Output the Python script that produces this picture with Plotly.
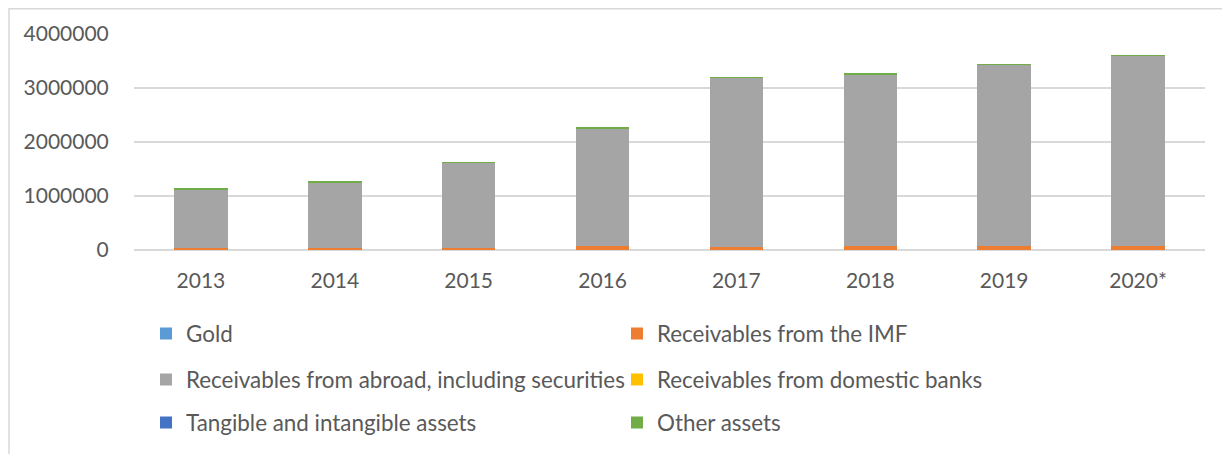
import plotly.graph_objects as go

years = ["2013", "2014", "2015", "2016", "2017", "2018", "2019", "2020*"]
gold = [2000, 2000, 2000, 2500, 2500, 3000, 3500, 4500]
imf = [35000, 40000, 40000, 75000, 55000, 65000, 65000, 70000]
abroad = [1082000, 1207000, 1572000, 2170000, 3130000, 3180000, 3358000, 3522000]
domestic = [0, 0, 0, 0, 0, 0, 0, 0]
tangible = [2000, 2000, 2000, 2500, 2500, 2500, 2500, 2500]
other = [9000, 9000, 9000, 10000, 10000, 10000, 11000, 11000]

names = ["Gold", "Receivables from the IMF",
         "Receivables from abroad, including securities",
         "Receivables from domestic banks",
         "Tangible and intangible assets", "Other assets"]
series = [gold, imf, abroad, domestic, tangible, other]
colors = ["#5B9BD5", "#ED7D31", "#A5A5A5", "#FFC000", "#4472C4", "#70AD47"]
legend_ids = ["legend", "legend2", "legend3", "legend4", "legend5", "legend6"]

FONT = "Lato"
TXT = "#595959"

fig = go.Figure()
for n, s, c, lg in zip(names, series, colors, legend_ids):
    fig.add_trace(go.Bar(x=years, y=s, name=n, marker=dict(color=c, line=dict(width=0)),
                         legend=lg, showlegend=True))

# page offset (body margin) compensation
OFF = 8
W, H = 1230, 454
# target plot-area geometry in screenshot px
L, R, T, B = 134 - OFF, 1205 - OFF, 34 - OFF, 250 - OFF
pw, ph = R - L, B - T

def px_x(x):
    return (x - OFF - L) / pw

def px_y(y):
    return (B - (y - OFF)) / ph

col_x = [px_x(146), px_x(617)]
row_y = [px_y(334), px_y(380), px_y(423)]
leg_common = dict(orientation="h", xanchor="left", yanchor="middle",
                  font=dict(family=FONT, size=22.4, color=TXT),
                  bgcolor="rgba(0,0,0,0)", borderwidth=0)
layout_legends = {}
for i, lg in enumerate(legend_ids):
    layout_legends[lg] = dict(x=col_x[i % 2], y=row_y[i // 2], **leg_common)

fig.update_layout(
    width=W, height=H,
    barmode="stack", bargap=0.6,
    showlegend=True,
    margin=dict(l=L, r=W - R, t=T, b=H - B, autoexpand=False),
    paper_bgcolor="white", plot_bgcolor="white",
    font=dict(family=FONT, size=20, color=TXT),
    **layout_legends,
)
fig.update_yaxes(range=[0, 4000000], dtick=1000000, tickformat="d",
                 showgrid=True, gridcolor="#D9D9D9", gridwidth=2,
                 zeroline=True, zerolinecolor="#D9D9D9", zerolinewidth=2,
                 ticks="outside", ticklen=20, tickcolor="rgba(0,0,0,0)",
                 tickfont=dict(family=FONT, size=21, color=TXT))
fig.update_xaxes(showgrid=False, showline=False, ticks="outside", ticklen=12,
                 tickcolor="rgba(0,0,0,0)",
                 tickfont=dict(family=FONT, size=21, color=TXT))

# chart border
fig.add_shape(type="rect", xref="paper", yref="paper",
              x0=px_x(9), x1=px_x(1250), y0=px_y(480), y1=px_y(OFF + 0.75),
              line=dict(color="#D9D9D9", width=1.5), layer="below")

fig.write_html("out.html")
